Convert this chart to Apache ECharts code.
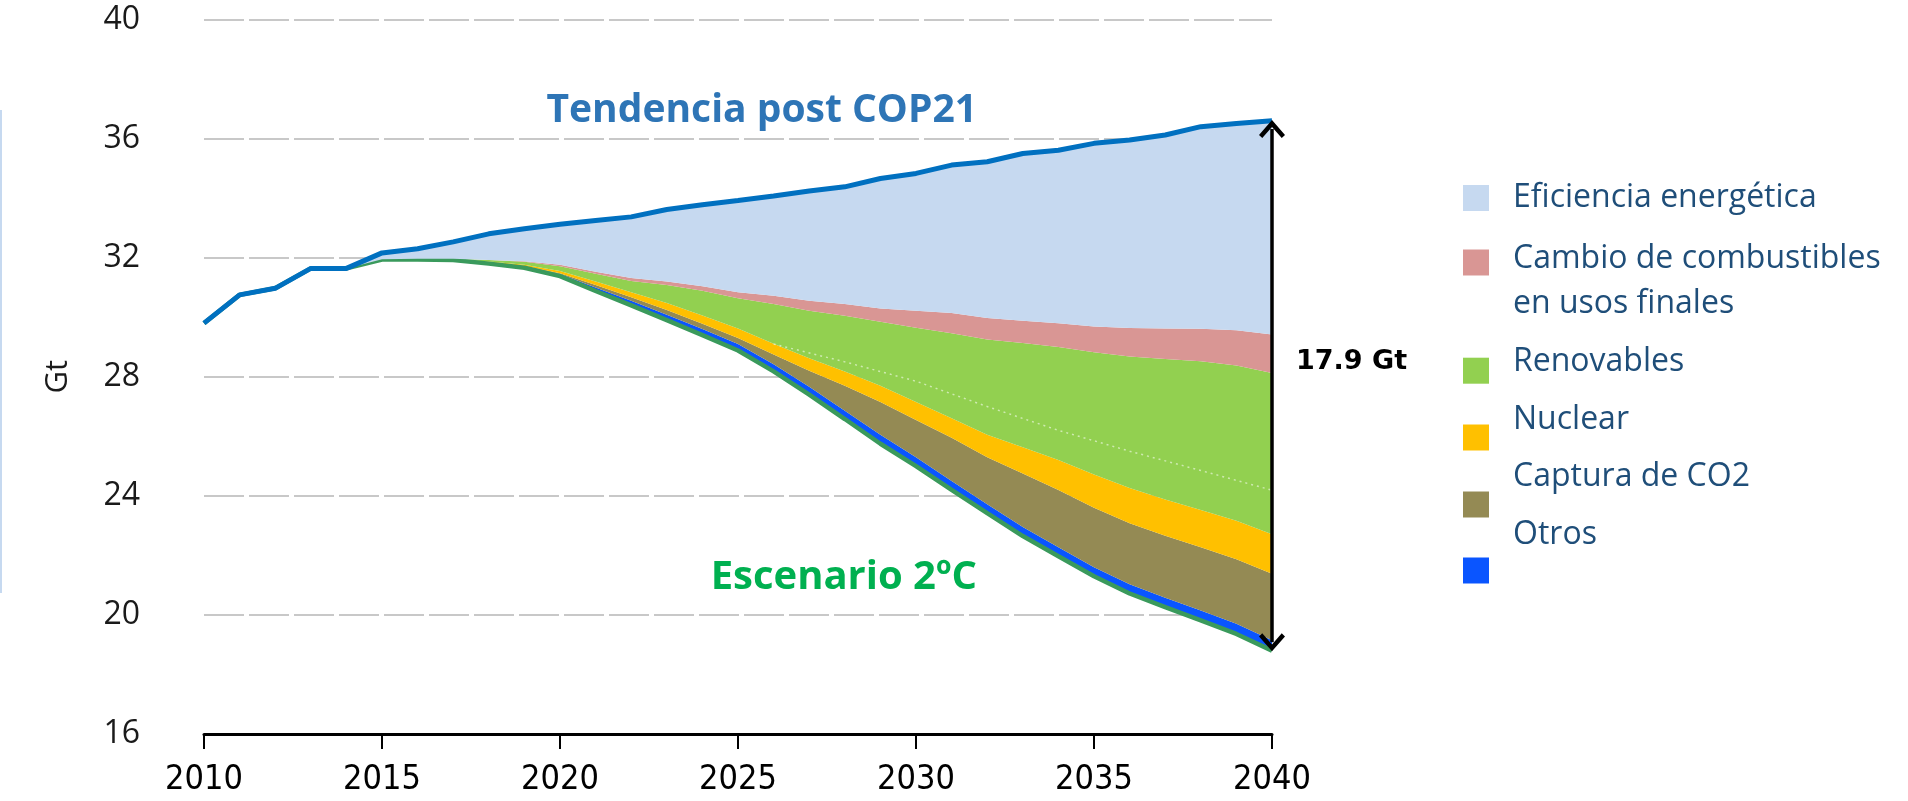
<!DOCTYPE html>
<html>
<head>
<meta charset="utf-8">
<script src="https://cdn.jsdelivr.net/npm/echarts@6/dist/echarts.min.js"></script>
<style>
html,body{margin:0;padding:0;background:#ffffff;}
#chart{width:1908px;height:801px;}
</style>
</head>
<body>
<div id="chart"></div>
<script>
// ---- Data (Gt CO2) ----
const years = ['2010','2011','2012','2013','2014','2015','2016','2017','2018','2019',
               '2020','2021','2022','2023','2024','2025','2026','2027','2028','2029',
               '2030','2031','2032','2033','2034','2035','2036','2037','2038','2039','2040'];

// Escenario 2ºC trajectory (bottom line)
const escenario2C = [29.8, 30.75, 30.97, 31.64, 31.64, 31.94, 31.94, 31.92, 31.8, 31.66,
                     31.38, 30.88, 30.4, 29.9, 29.4, 28.88, 28.18, 27.4, 26.58, 25.75,
                     25.0, 24.2, 23.42, 22.65, 21.97, 21.3, 20.72, 20.26, 19.82, 19.36, 18.8];

// Wedges of reduction, stacked from the 2ºC line upward
const otros       = [0, 0, 0, 0, 0, 0, 0.01, 0.02, 0.03, 0.04,
                     0.07, 0.12, 0.15, 0.18, 0.2, 0.22, 0.24, 0.26, 0.28, 0.3,
                     0.3, 0.3, 0.3, 0.3, 0.3, 0.3, 0.31, 0.32, 0.33, 0.34, 0.35];
const captura     = [0, 0, 0, 0, 0, 0.01, 0.01, 0.01, 0.02, 0.02,
                     0.03, 0.08, 0.12, 0.16, 0.18, 0.2, 0.33, 0.54, 0.84, 1.1,
                     1.25, 1.45, 1.58, 1.8, 1.93, 2.0, 2.05, 2.08, 2.12, 2.17, 2.23];
const nuclear     = [0, 0, 0, 0, 0, 0, 0, 0, 0.02, 0.04,
                     0.07, 0.12, 0.17, 0.24, 0.28, 0.32, 0.36, 0.42, 0.48, 0.55,
                     0.6, 0.66, 0.75, 0.88, 1.0, 1.12, 1.18, 1.22, 1.25, 1.29, 1.33];
const renovables  = [0, 0, 0, 0, 0, 0, 0, 0.01, 0.05, 0.1,
                     0.16, 0.26, 0.38, 0.6, 0.83, 1.02, 1.33, 1.6, 1.87, 2.15,
                     2.5, 2.85, 3.2, 3.5, 3.8, 4.1, 4.42, 4.72, 5.0, 5.22, 5.42];
const cambio      = [0, 0, 0, 0, 0, 0, 0, 0, 0, 0.02,
                     0.05, 0.07, 0.1, 0.12, 0.15, 0.2, 0.28, 0.33, 0.39, 0.44,
                     0.57, 0.68, 0.72, 0.75, 0.8, 0.87, 0.96, 1.02, 1.09, 1.18, 1.29];
const eficiencia  = [0, 0, 0, 0, 0, 0.21, 0.34, 0.57, 0.88, 1.09,
                     1.36, 1.72, 2.05, 2.42, 2.74, 3.08, 3.35, 3.69, 3.94, 4.37,
                     4.61, 4.97, 5.25, 5.62, 5.81, 6.15, 6.31, 6.5, 6.79, 6.95, 7.18];

// faint dotted reference line inside the renewables wedge
const dottedRef   = [null, null, null, null, null, null, null, null, null, null,
                     null, null, null, null, null, null, 29.1, null, 28.5, null,
                     27.85, null, 27.0, null, 26.2, null, 25.5, null, 24.85, null, 24.19];

const yTicks = {min: 16, max: 40, interval: 4};
const gapLabel = '17.9 Gt';

const names = {
  efi: 'Eficiencia energética',
  cam: 'Cambio de combustibles en usos finales',
  ren: 'Renovables',
  nuc: 'Nuclear',
  cap: 'Captura de CO2',
  otr: 'Otros'
};
const legendLines = {
  efi: ['Eficiencia energética'],
  cam: ['Cambio de combustibles', 'en usos finales'],
  ren: ['Renovables'],
  nuc: ['Nuclear'],
  cap: ['Captura de CO2'],
  otr: ['Otros']
};
const colors = {
  efi: '#C6D9F0', cam: '#D99694', ren: '#92D050', nuc: '#FFC000', cap: '#948A54', otr: '#0A55FF'
};

// top and bottom at 2040 for the arrow
const last = years.length - 1;
const bottom2040 = escenario2C[last];
const top2040 = escenario2C[last] + otros[last] + captura[last] + nuclear[last] +
                renovables[last] + cambio[last] + eficiencia[last];

function areaSeries(key, data) {
  return {
    name: names[key], type: 'line', stack: 'total', data: data,
    symbol: 'none', silent: true, z: 2,
    lineStyle: {width: 0, color: colors[key]},
    itemStyle: {color: colors[key]},
    areaStyle: {color: colors[key], opacity: 1}
  };
}

// spacerTop / spacerBottom: heights of empty lines that shift the text relative to the swatch
function legendFor(key, top, lh, spacerTop, spacerBottom) {
  return {
    data: [{name: names[key], icon: 'rect', itemStyle: {color: colors[key], borderWidth: 0}}],
    left: 1463, top: top, padding: 0, orient: 'vertical',
    itemWidth: 26, itemHeight: 26, selectedMode: false,
    formatter: function () {
      let parts = [];
      if (spacerTop) parts.push('{s| }');
      legendLines[key].forEach(function (l) { parts.push('{t|' + l + '}'); });
      if (spacerBottom) parts.push('{b| }');
      return parts.join('\n');
    },
    textStyle: {
      fontFamily: 'Open Sans', fontSize: 32, color: '#1F4E79',
      rich: {
        t: {fontFamily: 'Open Sans', fontSize: 32, color: '#1F4E79', lineHeight: lh, padding: [0, 0, 0, 19]},
        s: {fontSize: 1, lineHeight: spacerTop || 1},
        b: {fontSize: 1, lineHeight: spacerBottom || 1}
      }
    }
  };
}

const chevron = 'path://M0 14 L12 0 L24 14 L21 17 L12 6.5 L3 17 Z';

const option = {
  animation: false,
  backgroundColor: '#ffffff',
  grid: {left: 204, right: 636, top: 19.5, bottom: 67, containLabel: false},
  xAxis: {
    type: 'category', data: years, boundaryGap: false,
    axisLine: {show: true, lineStyle: {color: '#000', width: 3}},
    axisTick: {show: true, interval: 4, length: 15, lineStyle: {color: '#000', width: 2}},
    axisLabel: {interval: 4, margin: 29, fontSize: 34, color: '#000',
                fontFamily: '"Liberation Sans Narrow", "DejaVu Sans Condensed", "Open Sans", sans-serif'},
    splitLine: {show: false}
  },
  yAxis: {
    type: 'value', min: yTicks.min, max: yTicks.max, interval: yTicks.interval,
    name: 'Gt', nameLocation: 'middle', nameRotate: 90, nameGap: 130,
    nameTextStyle: {fontFamily: 'Open Sans', fontSize: 31, color: '#1a1a1a'},
    axisLine: {show: false}, axisTick: {show: false},
    axisLabel: {margin: 64, fontSize: 32, fontFamily: 'Open Sans', color: '#1a1a1a'},
    splitLine: {show: true, lineStyle: {color: '#C8C8C8', width: 2, type: [40, 5]}}
  },
  legend: [
    legendFor('efi', 182, 40, 0, 0),
    legendFor('cam', 217, 45, 37.6, 0),
    legendFor('ren', 346, 40, 0, 17.4),
    legendFor('nuc', 404, 40, 0, 35),
    legendFor('cap', 461, 40, 0, 55),
    legendFor('otr', 519, 40, 0, 71)
  ],
  series: [
    {
      name: 'Escenario 2ºC', type: 'line', stack: 'total', data: escenario2C,
      symbol: 'none', silent: true, z: 3,
      lineStyle: {color: '#3A9A5C', width: 4.5}
    },
    areaSeries('otr', otros),
    areaSeries('cap', captura),
    areaSeries('nuc', nuclear),
    areaSeries('ren', renovables),
    areaSeries('cam', cambio),
    {
      name: names.efi, type: 'line', stack: 'total', data: eficiencia,
      symbol: 'none', silent: true, z: 4,
      lineStyle: {color: '#0070C0', width: 5},
      itemStyle: {color: colors.efi},
      areaStyle: {color: colors.efi, opacity: 1}
    },
    {
      name: 'ref', type: 'line', data: dottedRef, connectNulls: true,
      symbol: 'none', silent: true, z: 2,
      lineStyle: {color: 'rgba(255,255,255,0.55)', width: 1.5, type: [2, 4]}
    },
    {
      name: 'arrow', type: 'line', data: [], silent: true, z: 5,
      markLine: {
        silent: true, animation: false,
        symbol: [chevron, chevron], symbolSize: [26, 18],
        label: {show: false},
        lineStyle: {color: '#000', width: 3.5, type: 'solid'},
        data: [[{coord: [years[last], top2040 - 0.28]}, {coord: [years[last], bottom2040 + 0.28]}]]
      }
    }
  ],
  graphic: [
    {type: 'line', shape: {x1: 1, y1: 110, x2: 1, y2: 593}, style: {stroke: '#C6D9F0', lineWidth: 2}, silent: true},
    {type: 'text', x: 977, y: 111, silent: true,
     style: {text: 'Tendencia post COP21', fill: '#2E75B6', fontSize: 39, fontWeight: 'bold',
             fontFamily: 'Open Sans', align: 'right', verticalAlign: 'middle'}},
    {type: 'text', x: 977, y: 578, silent: true,
     style: {text: 'Escenario 2ºC', fill: '#00B050', fontSize: 40, fontWeight: 'bold',
             fontFamily: 'Open Sans', align: 'right', verticalAlign: 'middle'}},
    {type: 'text', x: 1296, y: 362, silent: true,
     style: {text: gapLabel, fill: '#000', fontSize: 27, fontWeight: 'bold',
             fontFamily: 'DejaVu Sans', align: 'left', verticalAlign: 'middle'}}
  ]
};

const chart = echarts.init(document.getElementById('chart'), null, {renderer: 'canvas'});
chart.setOption(option);
</script>
</body>
</html>
